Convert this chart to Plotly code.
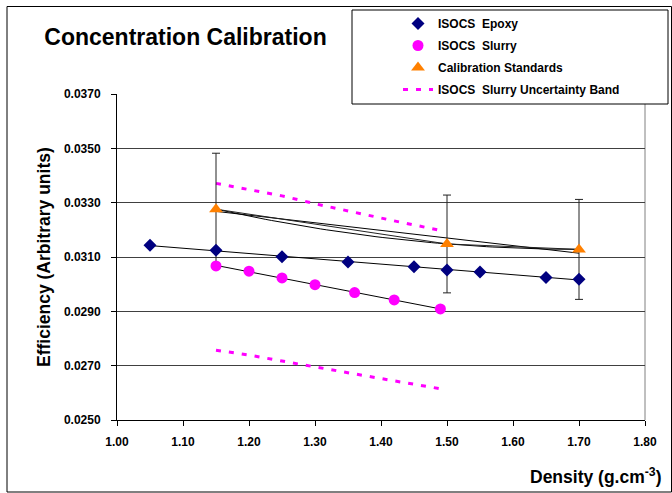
import numpy as np
import plotly.graph_objects as go

# ---------------- data ----------------
epoxy_density = [1.05, 1.15, 1.25, 1.35, 1.45, 1.50, 1.55, 1.65, 1.70]
epoxy_eff = [0.03143, 0.03125, 0.03101, 0.03082, 0.03064, 0.03052, 0.03045, 0.03025, 0.03018]

slurry_density = [1.15, 1.20, 1.25, 1.30, 1.36, 1.42, 1.49]
slurry_eff = [0.03067, 0.03048, 0.03023, 0.02998, 0.02969, 0.02942, 0.02909]

cal_density = [1.15, 1.50, 1.70]
cal_eff = [0.03276, 0.03148, 0.03128]
cal_err = [0.00206, 0.00180, 0.00184]

band_density = [1.15, 1.20, 1.25, 1.30, 1.36, 1.42, 1.49]
band_upper = [0.03371, 0.03349, 0.03325, 0.03296, 0.03264, 0.03233, 0.03198]
band_lower = [0.02757, 0.02739, 0.02717, 0.02695, 0.02670, 0.02644, 0.02615]

x_ticks = [1.00, 1.10, 1.20, 1.30, 1.40, 1.50, 1.60, 1.70, 1.80]
y_ticks = [0.0250, 0.0270, 0.0290, 0.0310, 0.0330, 0.0350, 0.0370]

# ---------------- layout geometry (pixels) ----------------
W, H = 672, 493
L, R, T, B = 117, 645, 94, 420


def px_x(p):
    return (p - L) / (R - L)


def px_y(p):
    return (B - p) / (B - T)


FONT = "Arial, 'Liberation Sans', sans-serif"
MAGENTA = "#FF00FF"
NAVY = "#000080"
ORANGE = "#FF8000"

fig = go.Figure()

# uncertainty band
fig.add_trace(go.Scatter(
    x=band_density, y=band_upper, mode="lines", name="ISOCS  Slurry Uncertainty Band",
    line=dict(color=MAGENTA, width=3, dash="5px,8px"), legendgroup="band", legendrank=4,
    hoverinfo="skip"))
fig.add_trace(go.Scatter(
    x=band_density, y=band_lower, mode="lines", showlegend=False,
    line=dict(color=MAGENTA, width=3, dash="5px,8px"), legendgroup="band", hoverinfo="skip"))

# trend lines (computed from the data)
def fit_line(xs, ys, order, n=60):
    c = np.polyfit(xs, ys, order)
    xx = np.linspace(min(xs), max(xs), n)
    return xx, np.polyval(c, xx)

for xs, ys, order in [(epoxy_density, epoxy_eff, 1),
                      (slurry_density, slurry_eff, 1),
                      (cal_density, cal_eff, 1),
                      (cal_density, cal_eff, 2)]:
    xx, yy = fit_line(xs, ys, order)
    fig.add_trace(go.Scatter(x=xx, y=yy, mode="lines", showlegend=False,
                             line=dict(color="black", width=1), hoverinfo="skip"))
fig.add_trace(go.Scatter(x=cal_density, y=cal_eff, mode="lines", showlegend=False,
                         line=dict(color="#222222", width=1), hoverinfo="skip"))

# calibration standards
fig.add_trace(go.Scatter(
    x=cal_density, y=cal_eff, mode="markers", name="Calibration Standards",
    marker=dict(symbol="triangle-up", size=12, color=ORANGE),
    error_y=dict(type="data", array=cal_err, visible=True, color="#222222", thickness=1, width=4),
    legendgroup="cal", legendrank=3))

# slurry
fig.add_trace(go.Scatter(
    x=slurry_density, y=slurry_eff, mode="markers", name="ISOCS  Slurry",
    marker=dict(symbol="circle", size=11, color=MAGENTA), legendgroup="slurry", legendrank=2))

# epoxy
fig.add_trace(go.Scatter(
    x=epoxy_density, y=epoxy_eff, mode="markers", name="ISOCS  Epoxy",
    marker=dict(symbol="diamond", size=10, color=NAVY), legendgroup="epoxy", legendrank=1))

shapes = [
    # plot right border
    dict(type="line", xref="paper", yref="paper", x0=1, x1=1, y0=0, y1=1,
         line=dict(color="#808080", width=1), layer="below"),
    # legend box
    dict(type="rect", xref="paper", yref="paper",
         x0=px_x(352), x1=px_x(668), y0=px_y(104), y1=px_y(10),
         line=dict(color="black", width=1), fillcolor="white", layer="above"),
    # outer chart border
    dict(type="rect", xref="paper", yref="paper",
         x0=px_x(7), x1=px_x(671.5), y0=px_y(492), y1=px_y(6.5),
         line=dict(color="black", width=1), fillcolor="rgba(0,0,0,0)", layer="above"),
]

annotations = [
    dict(text="<b>Efficiency (Arbitrary units)</b>", xref="paper", yref="paper",
         x=px_x(44), y=0.5, xanchor="center", yanchor="middle", textangle=-90,
         showarrow=False, font=dict(family=FONT, size=17.5, color="black")),
    dict(text="<b>Density (g.cm<sup>-3</sup>)</b>", xref="paper", yref="paper",
         x=px_x(663), y=px_y(476), xanchor="right", yanchor="middle",
         showarrow=False, font=dict(family=FONT, size=17.5, color="black")),
]

fig.update_layout(
    width=W, height=H,
    margin=dict(l=L, r=W - R, t=T, b=H - B, autoexpand=False),
    paper_bgcolor="white", plot_bgcolor="white",
    title=dict(text="<b>Concentration Calibration</b>", x=185.5 / W, xanchor="center",
               xref="container", yref="container", y=1 - 37 / H, yanchor="middle",
               font=dict(family=FONT, size=23, color="black")),
    font=dict(family=FONT, size=12, color="black"),
    showlegend=True,
    legend=dict(x=px_x(398), y=px_y(9), xanchor="left", yanchor="top",
                bgcolor="rgba(0,0,0,0)", borderwidth=0, tracegroupgap=3,
                font=dict(family=FONT, size=12, color="black", weight="bold"),
                traceorder="grouped"),
    shapes=shapes,
    annotations=annotations,
    xaxis=dict(range=[1.0, 1.8], tickvals=x_ticks, tickformat=".2f",
               ticks="outside", ticklen=5, tickcolor="black", showline=True,
               linecolor="black", linewidth=1, showgrid=False, zeroline=False,
               ticklabelstandoff=6,
               tickfont=dict(family=FONT, size=12, color="black", weight="bold")),
    yaxis=dict(range=[0.025, 0.037], tickvals=y_ticks, tickformat=".4f",
               ticks="outside", ticklen=5, tickcolor="black", showline=True,
               linecolor="black", linewidth=1, showgrid=True, gridcolor="#404040",
               gridwidth=1, zeroline=False, ticklabelstandoff=8,
               tickfont=dict(family=FONT, size=12, color="black", weight="bold")),
)

fig.write_html("out.html", config={"displayModeBar": False},
               post_script="document.body.style.margin='0';document.body.style.overflow='hidden';")
